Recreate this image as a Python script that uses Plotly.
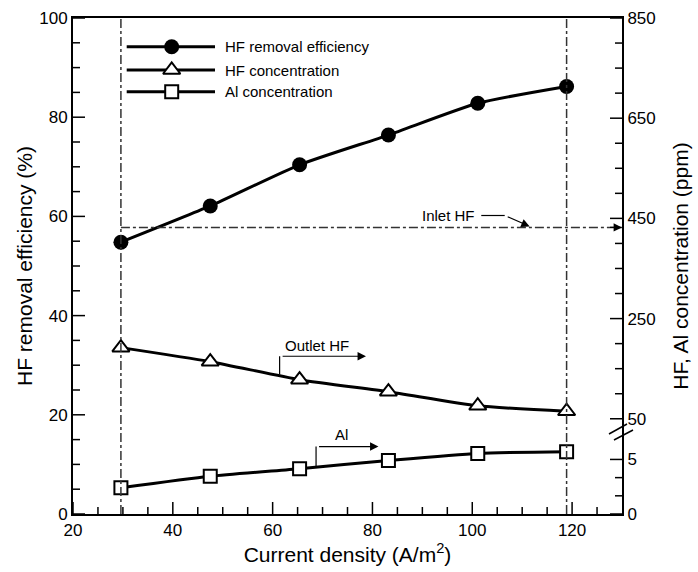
import plotly.graph_objects as go

# ---------------- data ----------------
current_density = [29.6, 47.5, 65.4, 83.2, 101.1, 118.9]        # A/m2
hf_removal_eff = [54.8, 62.1, 70.4, 76.4, 82.8, 86.2]           # %
hf_conc_ppm = [192, 164, 128, 104, 76, 65]                      # ppm (outlet HF)
al_conc_ppm = [2.4, 3.45, 4.15, 4.9, 5.55, 5.7]                 # ppm
inlet_hf_ppm = 432

x_major = [20, 40, 60, 80, 100, 120]
x_minor = [25, 30, 35, 45, 50, 55, 65, 70, 75, 85, 90, 95, 105, 110, 115, 125]
left_major = [0, 20, 40, 60, 80, 100]
left_minor = [5, 10, 15, 25, 30, 35, 45, 50, 55, 65, 70, 75, 85, 90, 95]
right_major = [0, 5, 50, 250, 450, 650, 850]
right_minor = [5 / 3, 10 / 3, 100, 150, 200, 300, 350, 400, 500, 550, 600, 700, 750, 800]

legend_names = ["HF removal efficiency", "HF concentration", "Al concentration"]

# ---------------- layout constants ----------------
W, H = 698, 572
ML, MR, MT, MB = 73, 76, 18, 58
X0, X1 = 20, 130
Y0, Y1 = 0, 100
PW, PH = W - ML - MR, H - MT - MB
XU = (X1 - X0) / PW   # data units per pixel (x)
YU = (Y1 - Y0) / PH   # data units per pixel (y)


def px_to_x(px):
    return X0 + (px - ML) * XU


def py_to_y(py):
    return Y1 - (py - MT) * YU


# broken right axis: ppm -> left-axis units
def ppm_to_plot(v):
    if v <= 10:
        return v * 2.2
    return 19.2 + (v - 50) * 0.101


hf_plot = [ppm_to_plot(v) for v in hf_conc_ppm]
al_plot = [ppm_to_plot(v) for v in al_conc_ppm]
inlet_plot = ppm_to_plot(inlet_hf_ppm)

FONT = "Arial, Liberation Sans, sans-serif"
DASH = "#333333"

fig = go.Figure()

fig.add_trace(go.Scatter(
    x=current_density, y=hf_removal_eff, mode="lines+markers",
    line=dict(color="black", width=3, shape="spline", smoothing=0.6),
    marker=dict(symbol="circle", size=15, color="black"), showlegend=False))
fig.add_trace(go.Scatter(
    x=current_density, y=hf_plot, mode="lines+markers",
    line=dict(color="black", width=3, shape="spline", smoothing=0.6),
    marker=dict(symbol="triangle-up", size=15, color="white",
                line=dict(color="black", width=2)), showlegend=False))
fig.add_trace(go.Scatter(
    x=current_density, y=al_plot, mode="lines+markers",
    line=dict(color="black", width=3, shape="spline", smoothing=0.6),
    marker=dict(symbol="square", size=13, color="white",
                line=dict(color="black", width=2)), showlegend=False))

# ---- tick marks (inside), each drawn as its own short line ----
MAJ, MIN = 12, 7
tick_segments = []
for vals, ln in ((x_major, MAJ), (x_minor, MIN)):
    for v in vals:
        tick_segments.append(([v, v], [Y0, Y0 + ln * YU]))
for vals, ln in ((left_major, MAJ), (left_minor, MIN)):
    for v in vals:
        tick_segments.append(([X0, X0 + ln * XU], [v, v]))
for vals, ln in ((right_major, MAJ), (right_minor, MIN)):
    for v in vals:
        p = ppm_to_plot(v)
        tick_segments.append(([X1, X1 - ln * XU], [p, p]))

shapes = []
for (xs, ys) in tick_segments:
    shapes.append(dict(type="line", xref="x", yref="y", x0=xs[0], x1=xs[1], y0=ys[0], y1=ys[1],
                       layer="above", line=dict(color="black", width=1.5)))

# ---- manual legend ----
leg_rows = [46.7, 70, 91.7]
leg_symbols = [dict(symbol="circle", size=15, color="black"),
               dict(symbol="triangle-up", size=15, color="white", line=dict(color="black", width=2)),
               dict(symbol="square", size=13, color="white", line=dict(color="black", width=2))]
for yy, mk, name in zip(leg_rows, leg_symbols, legend_names):
    fig.add_trace(go.Scatter(x=[px_to_x(126.7), px_to_x(215)], y=[py_to_y(yy)] * 2, mode="lines",
                             line=dict(color="black", width=3), showlegend=False, hoverinfo="skip"))
    fig.add_trace(go.Scatter(x=[px_to_x(171.7)], y=[py_to_y(yy)], mode="markers", marker=mk,
                             showlegend=False, hoverinfo="skip"))
    fig.add_annotation(x=px_to_x(223), y=py_to_y(yy), xref="x", yref="y", text=name, showarrow=False,
                       xanchor="left", yanchor="middle", font=dict(family=FONT, size=15, color="black"))

for xv in (current_density[0], current_density[-1]):
    shapes.append(dict(type="line", xref="x", yref="paper", x0=xv, x1=xv, y0=0, y1=1,
                       line=dict(color=DASH, width=1.5, dash="dashdot")))
shapes.append(dict(type="line", xref="x", yref="y", x0=current_density[0], x1=X1,
                   y0=inlet_plot, y1=inlet_plot, line=dict(color=DASH, width=1.5, dash="dashdot")))

fig.add_annotation(x=95.2, y=inlet_plot + 2.4, xref="x", yref="y", text="Inlet HF", showarrow=False,
                   font=dict(family=FONT, size=15, color="black"))
shapes.append(dict(type="line", xref="x", yref="y", x0=101.8, x1=106.5,
                   y0=inlet_plot + 2.4, y1=inlet_plot + 2.4, line=dict(color="black", width=1.2)))
fig.add_annotation(x=111.5, y=inlet_plot + 0.2, ax=106.5, ay=inlet_plot + 2.4, xref="x", yref="y",
                   axref="x", ayref="y", text=" ", showarrow=True, arrowhead=2, arrowsize=1.4,
                   arrowwidth=1.2, arrowcolor="black")
fig.add_annotation(x=X1, y=inlet_plot, ax=127, ay=inlet_plot, xref="x", yref="y",
                   axref="x", ayref="y", text=" ", showarrow=True, arrowhead=2, arrowsize=1.4,
                   arrowwidth=1.2, arrowcolor="black")

fig.add_annotation(x=68.8, y=33.9, xref="x", yref="y", text="Outlet HF", showarrow=False,
                   font=dict(family=FONT, size=15, color="black"))
shapes.append(dict(type="line", xref="x", yref="y", x0=61.4, x1=61.4, y0=28.1, y1=31.8,
                   line=dict(color="black", width=1.2)))
fig.add_annotation(x=78.7, y=31.8, ax=61.4, ay=31.8, xref="x", yref="y", axref="x", ayref="y",
                   text=" ", showarrow=True, arrowhead=2, arrowsize=1.4, arrowwidth=1.2, arrowcolor="black")

fig.add_annotation(x=73.7, y=16.1, xref="x", yref="y", text="Al", showarrow=False,
                   font=dict(family=FONT, size=15, color="black"))
shapes.append(dict(type="line", xref="x", yref="y", x0=68.7, x1=68.7, y0=9.7, y1=13.6,
                   line=dict(color="black", width=1.2)))
fig.add_annotation(x=81.2, y=13.6, ax=68.7, ay=13.6, xref="x", yref="y", axref="x", ayref="y",
                   text=" ", showarrow=True, arrowhead=2, arrowsize=1.4, arrowwidth=1.2, arrowcolor="black")

for (x0, y0, x1, y1) in [(609, 434, 627, 424), (614, 440, 633, 430)]:
    shapes.append(dict(type="line", xref="paper", yref="paper",
                       x0=(x0 - ML) / PW, x1=(x1 - ML) / PW,
                       y0=1 - (y0 - MT) / PH, y1=1 - (y1 - MT) / PH,
                       line=dict(color="black", width=1.5)))

fig.update_layout(shapes=shapes)

tickfont = dict(family=FONT, size=17, color="black")
titlefont = dict(family=FONT, size=21, color="black")

fig.update_layout(
    width=W, height=H,
    margin=dict(l=ML, r=MR, t=MT, b=MB),
    paper_bgcolor="white", plot_bgcolor="white",
    xaxis=dict(range=[X0, X1], tickmode="array", tickvals=x_major, ticks="", automargin=False,
               showline=True, linewidth=2, linecolor="black",
               mirror=True, showgrid=False, zeroline=False, tickfont=tickfont,
               title=dict(text="Current density (A/m<sup>2</sup>)", font=titlefont, standoff=2)),
    yaxis=dict(range=[Y0, Y1], tickmode="array", tickvals=left_major, ticks="", automargin=False,
               showline=True, linewidth=2, linecolor="black",
               showgrid=False, zeroline=False, tickfont=tickfont,
               title=dict(text="HF removal efficiency (%)", font=titlefont, standoff=1)),
    yaxis2=dict(overlaying="y", side="right", range=[Y0, Y1], tickmode="array", automargin=False,
                tickvals=[ppm_to_plot(v) for v in right_major],
                ticktext=[str(v) for v in right_major], ticks="",
                showline=True, linewidth=2, linecolor="black", showgrid=False, zeroline=False,
                tickfont=tickfont,
                title=dict(text="HF, Al concentration (ppm)", font=titlefont, standoff=19)),
)

fig.add_trace(go.Scatter(x=[None], y=[None], yaxis="y2", showlegend=False))

fig.write_html("out.html")
